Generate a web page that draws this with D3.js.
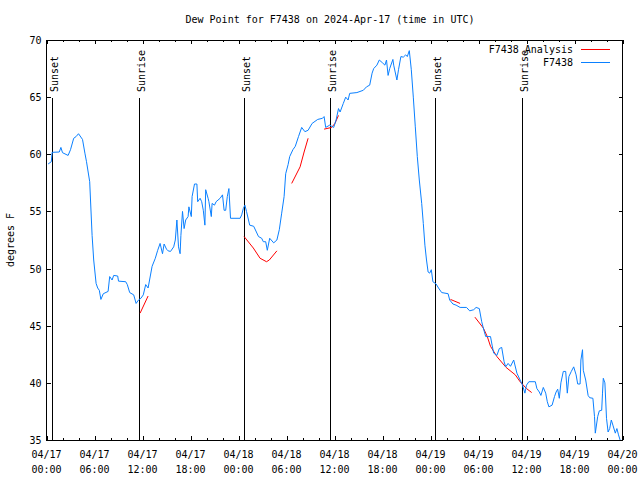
<!DOCTYPE html>
<html><head><meta charset="utf-8">
<script src="https://cdn.jsdelivr.net/npm/d3@7"></script>
<style>
body{margin:0;background:#fff}
svg{display:block}
text{font-family:"DejaVu Sans Mono","Liberation Mono",monospace;font-size:10px;fill:#000}
</style>
</head><body>
<svg id="chart" width="640" height="480"></svg>
<script>
const titleText = "Dew Point for F7438 on 2024-Apr-17 (time in UTC)";
const yLabel = "degrees F";
const seriesNames = ["F7438 Analysis", "F7438"];
const seriesColors = ["#ff0000", "#0a80ff"];

// hours since 2024-04-17 00:00 UTC
const obsHours = [0.2,0.6,0.7,1.6,1.8,2.0,2.7,3.0,3.4,3.7,4.0,4.5,4.8,5.0,5.4,5.7,5.9,6.2,6.4,6.6,6.8,7.1,7.7,7.9,8.2,8.4,8.9,9.0,9.9,10.1,10.4,10.9,11.2,11.5,11.8,12.1,12.4,12.7,13.2,13.6,13.9,14.2,14.5,14.7,15.0,15.2,15.5,15.9,16.1,16.3,16.5,16.7,16.8,17.0,17.2,17.4,17.7,17.8,18.1,18.2,18.5,18.8,18.9,19.2,19.4,19.6,19.8,19.9,20.2,20.3,20.6,20.7,21.0,21.2,21.7,22.0,22.2,22.4,22.6,22.8,23.0,24.2,24.4,24.6,24.8,25.0,25.4,25.9,26.5,26.9,27.1,27.4,27.6,27.9,28.4,28.8,29.1,29.4,29.7,29.9,30.2,30.4,30.8,31.1,31.5,31.9,32.3,32.7,33.2,33.9,34.5,34.7,34.9,35.4,35.9,36.2,36.5,36.7,37.1,37.4,37.7,37.9,38.8,39.6,40.0,40.4,40.7,40.9,41.3,41.6,42.0,42.3,42.5,42.7,42.9,43.3,43.4,43.8,44.0,44.3,44.6,44.9,45.1,45.35,45.6,45.85,46.1,46.35,46.6,46.9,47.1,47.3,47.5,47.7,47.9,48.1,48.3,48.7,49.0,49.4,50.2,50.4,50.8,51.2,51.7,52.5,52.9,53.4,53.7,54.1,54.4,54.6,54.9,55.5,55.7,55.9,56.3,56.6,56.9,57.2,57.4,57.7,58.0,58.4,58.8,59.2,59.5,59.8,60.0,60.3,61.1,61.3,61.6,61.8,62.1,62.4,62.6,62.8,63.2,63.5,63.7,63.9,64.1,64.3,64.6,64.9,65.1,65.3,65.6,65.9,66.2,66.4,66.7,66.8,67.0,67.1,67.4,67.7,67.9,68.3,68.5,68.6,68.9,69.1,69.4,69.5,69.6,69.8,70.0,70.2,70.4,70.6,70.8,71.1,71.3,71.5,71.7];
const obsValues = [59.15,59.35,60.17,60.2,60.6,60.14,59.9,60.4,61.4,61.55,61.8,61.3,60.1,59.35,57.6,52.9,50.75,48.7,48.3,48.1,47.3,47.8,48.0,49.3,49.0,49.4,49.35,48.9,48.85,48.6,47.9,47.7,46.95,47.25,47.4,47.7,48.6,48.3,50.2,50.9,51.6,52.2,51.3,52.15,51.7,51.55,51.5,51.9,52.5,54.25,51.9,51.3,52.9,55.0,53.5,54.25,54.55,55.4,54.55,56.3,57.4,57.4,55.85,56.15,55.85,55.1,53.8,56.9,56.15,55.85,54.55,55.7,55.55,55.85,56.15,56.45,55.1,55.1,56.3,57.0,54.4,54.4,54.7,55.25,55.55,55.0,53.8,53.7,52.8,52.65,52.35,52.35,51.6,52.65,52.25,52.5,53.4,54.85,56.3,58.3,59.1,59.8,60.4,60.7,61.55,62.35,61.98,62.1,62.7,63.05,63.15,63.3,62.35,62.55,62.35,63.0,64.0,63.7,64.45,65.0,64.75,65.33,65.4,65.6,65.9,66.05,67.1,67.5,67.8,68.25,68.0,67.8,68.25,66.9,67.5,68.3,67.8,66.5,67.4,68.55,68.5,68.7,68.55,69.07,67.4,65.0,62.4,59.8,57.75,55.7,53.95,52.05,50.75,49.7,49.6,49.9,48.85,48.65,48.3,47.9,47.8,47.25,46.9,46.8,46.6,46.6,46.3,46.4,46.6,46.5,45.35,44.8,44.05,44.05,43.3,42.6,42.4,43.0,43.1,41.85,41.4,41.7,41.45,42.0,40.85,40.25,39.8,39.1,39.8,40.1,40.1,39.5,39.2,38.9,39.6,39.1,38.35,37.9,38.05,38.8,39.2,39.45,38.65,40.0,41.0,41.0,39.1,40.55,41.0,41.4,40.7,39.9,39.9,42.0,42.9,41.1,40.25,38.9,38.7,38.65,37.05,35.6,37.05,37.55,37.6,39.1,40.4,40.0,36.9,35.7,36.0,36.75,36.3,35.6,36.0,35.45,35.0];

// analysis: null separates segments
const anaHours = [11.7,12.7,null,24.7,25.85,26.7,27.5,27.85,28.8,null,30.65,31.7,32.2,32.7,null,34.7,35.65,36.05,36.5,null,50.5,51.7,null,53.55,54.6,55.1,55.5,56.3,57.45,58.6,59.2,60.0,60.65];
const anaValues = [46.1,47.6,null,52.8,51.8,50.9,50.6,50.75,51.55,null,57.45,58.9,60.2,61.4,null,62.2,62.35,62.7,63.4,null,47.3,46.95,null,45.75,44.8,44.05,43.2,42.3,41.35,40.7,40.1,39.5,39.15];

const sunLabels = ["Sunset","Sunrise","Sunset","Sunrise","Sunset","Sunrise"];
const sunHours = [0.7,11.55,24.7,35.45,48.57,59.5];

const yTicks = [35,40,45,50,55,60,65,70];
const xMajorHours = [0,6,12,18,24,30,36,42,48,54,60,66,72];
const xMinorHours = d3.range(0,73,2);

const base = Date.UTC(2024,3,17,0,0,0);
const toDate = h => new Date(base + h*3600000);

const M = {left:46.5, right:622.5, top:40, bottom:440};
const svg = d3.select("#chart");
const x = d3.scaleUtc().domain([toDate(0), toDate(72)]).range([M.left, M.right]);
const y = d3.scaleLinear().domain([35,70]).range([M.bottom, M.top]);

// title
svg.append("text").attr("x", 330).attr("y", 23).attr("text-anchor","middle").text(titleText);

// y label
svg.append("text").attr("transform","translate(14,240) rotate(-90)").attr("text-anchor","middle").text(yLabel);

const g = svg.append("g");

// y ticks both sides
const ya = d3.axisLeft(y).tickValues(yTicks).tickSize(-4).tickPadding(5).tickFormat(d3.format("d"));
const yAx = g.append("g").attr("transform",`translate(${M.left},0)`).call(ya);
const yb = d3.axisRight(y).tickValues(yTicks).tickSize(-4).tickFormat("");
g.append("g").attr("transform",`translate(${M.right},0)`).call(yb);

// x ticks
const fmtD = d3.utcFormat("%m/%d"), fmtT = d3.utcFormat("%H:%M");
const xMajor = d3.axisBottom(x).tickValues(xMajorHours.map(toDate)).tickSize(-4).tickFormat("");
const xMinor = d3.axisBottom(x).tickValues(xMinorHours.map(toDate)).tickSize(-2).tickFormat("");
g.append("g").attr("transform",`translate(0,${M.bottom})`).call(xMinor);
g.append("g").attr("transform",`translate(0,${M.bottom})`).call(xMajor);
g.append("g").attr("transform",`translate(0,${M.top})`).call(d3.axisTop(x).tickValues(xMinorHours.map(toDate)).tickSize(-2).tickFormat(""));
g.append("g").attr("transform",`translate(0,${M.top})`).call(d3.axisTop(x).tickValues(xMajorHours.map(toDate)).tickSize(-4).tickFormat(""));

g.selectAll(".domain").remove();
g.selectAll(".tick line").attr("stroke","#000").attr("shape-rendering","crispEdges");
g.selectAll("text").attr("font-family",null).attr("font-size",null).attr("fill","#000");
yAx.selectAll(".tick text").attr("dy","0.35em");

// x labels two lines
const xl = svg.append("g");
xMajorHours.forEach(h => {
  const d = toDate(h);
  const t = xl.append("text").attr("x", x(d)).attr("text-anchor","middle");
  t.append("tspan").attr("x", x(d)).attr("y", 458).text(fmtD(d));
  t.append("tspan").attr("x", x(d)).attr("y", 473).text(fmtT(d));
});

// sun lines
sunHours.forEach((h,i) => {
  const xs = Math.round(x(toDate(h))) + 0.5;
  svg.append("line").attr("x1",xs).attr("x2",xs).attr("y1",98).attr("y2",M.bottom)
    .attr("stroke","#000").attr("stroke-width",1).attr("shape-rendering","crispEdges");
  svg.append("text").attr("transform",`translate(${xs+5},92) rotate(-90)`).attr("text-anchor","start").text(sunLabels[i]);
});

// frame
svg.append("rect").attr("x",M.left).attr("y",M.top).attr("width",M.right-M.left).attr("height",M.bottom-M.top)
  .attr("fill","none").attr("stroke","#000").attr("shape-rendering","crispEdges");

// lines
const line = d3.line().defined(d => d[0] !== null).x(d => x(toDate(d[0]))).y(d => y(d[1]));
const anaData = anaHours.map((h,i) => [h, anaValues[i]]);
const obsData = obsHours.map((h,i) => [h, obsValues[i]]);
svg.append("path").datum(anaData).attr("d", line).attr("fill","none").attr("stroke",seriesColors[0]).attr("stroke-width",1);
svg.append("path").datum(obsData).attr("d", line).attr("fill","none").attr("stroke",seriesColors[1]).attr("stroke-width",1);

// legend
const legY = [49.5, 62.5];
seriesNames.forEach((n,i) => {
  svg.append("text").attr("x",573).attr("y",legY[i]+3.5).attr("text-anchor","end").text(n);
  svg.append("line").attr("x1",581).attr("x2",610).attr("y1",legY[i]).attr("y2",legY[i])
    .attr("stroke",seriesColors[i]).attr("stroke-width",1).attr("shape-rendering","crispEdges");
});
</script>
</body></html>
